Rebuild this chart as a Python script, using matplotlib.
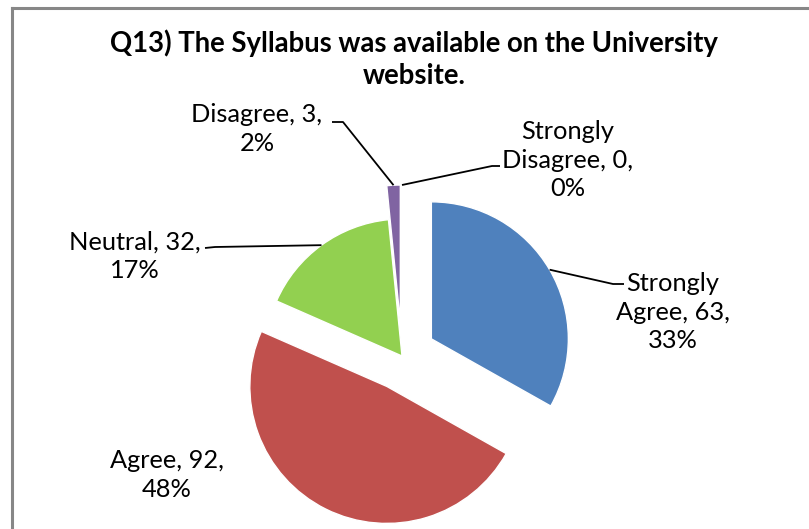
import math
import matplotlib.pyplot as plt
from matplotlib.lines import Line2D

# data
categories = ['Strongly Agree', 'Agree', 'Neutral', 'Disagree', 'Strongly Disagree']
counts = [63, 92, 32, 3, 0]
percent_labels = ['33%', '48%', '17%', '2%', '0%']
colors = ['#4F81BD', '#C0504D', '#92D050', '#8064A2', '#F79646']
explode_px = [34, 34, 0, 34, 34]

W, H = 809, 529
plt.rcParams['font.family'] = ['Lato', 'DejaVu Sans']

fig = plt.figure(figsize=(W / 100, H / 100), dpi=100)
ax = fig.add_axes([0, 0, 1, 1])

# pie in pixel coordinates (y upwards)
cx, cy, R = 402, H - 356, 137
wedges, _ = ax.pie(counts, colors=colors, explode=explode_px, center=(cx, cy),
                   radius=R, startangle=90, counterclock=False,
                   wedgeprops=dict(edgecolor='white', linewidth=1))
ax.set_xlim(0, W)
ax.set_ylim(0, H)
ax.axis('off')

# label boxes: (text center, elbow, end of the leader) in image pixels
label_pos = {
    'Strongly Agree': ((673, 312), (613, 284), (624, 284)),
    'Agree': ((167, 475), None, None),
    'Neutral': ((135, 256), (215, 247), (205, 248)),
    'Disagree': ((257, 129), (343, 122), (332, 122)),
    'Strongly Disagree': ((568, 160), (492, 166), (500, 166)),
}
label_text = {
    'Strongly Agree': 'Strongly\nAgree, {},\n{}',
    'Agree': 'Agree, {},\n{}',
    'Neutral': 'Neutral, {},\n{}',
    'Disagree': 'Disagree, {},\n{}',
    'Strongly Disagree': 'Strongly\nDisagree, {},\n{}',
}

for w, cat, n, pct in zip(wedges, categories, counts, percent_labels):
    (tx, ty), elbow, end = label_pos[cat]
    ax.text(tx, H - ty, label_text[cat].format(n, pct), ha='center', va='center',
            fontsize=18.3, linespacing=1.27, color='black')
    if elbow is None:
        continue
    mid = math.radians((w.theta1 + w.theta2) / 2)
    px = w.center[0] + w.r * math.cos(mid)
    py = w.center[1] + w.r * math.sin(mid)
    ax.plot([px, elbow[0], end[0]], [py, H - elbow[1], H - end[1]],
            color='black', lw=1.3, solid_capstyle='butt')

fig.text(414 / W, 1 - 59 / H,
         'Q13) The Syllabus was available on the University\nwebsite.',
         ha='center', va='center', fontsize=19.8, fontweight='bold',
         linespacing=1.3)

# chart frame (only top and left edges are visible)
fig.add_artist(Line2D([12 / W, 1], [1 - 8 / H, 1 - 8 / H], color='#878787',
                      lw=2.2, transform=fig.transFigure))
fig.add_artist(Line2D([12 / W, 12 / W], [0, 1 - 8 / H], color='#878787',
                      lw=2.2, transform=fig.transFigure))

plt.savefig('out.png', dpi=100)
